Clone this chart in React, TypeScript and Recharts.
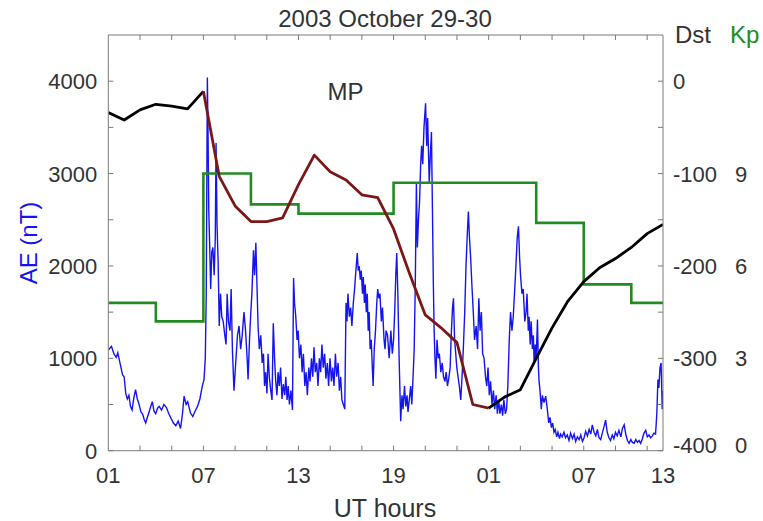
import React from 'react';
import { ComposedChart, Line, XAxis, YAxis } from 'recharts';

// hours counted from 01 UT on Oct 29
const hourTicks = [0, 2, 4, 6, 8, 10, 12, 14, 16, 18, 20, 22, 24, 26, 28, 30, 32, 34, 35];
const hourLabelAt = [0, 6, 12, 18, 24, 30, 35];
const hourLabelText = ['01', '07', '13', '19', '01', '07', '13'];

const aeTicks = [0, 500, 1000, 1500, 2000, 2500, 3000, 3500, 4000];
const dstTicks = [-400, -350, -300, -250, -200, -150, -100, -50, 0];
const kpTicks = [0, 3, 6, 9];

// AE index (nT), [hour, value]
const aeTrace: [number, number][] = [
  [0, 1090], [0.2, 1130], [0.35, 1050], [0.5, 1010], [0.6, 1060], [0.75, 940], [0.9, 820], [1.0, 800],
  [1.1, 620], [1.2, 560], [1.3, 600], [1.4, 480], [1.5, 440], [1.6, 560], [1.72, 660], [1.83, 560],
  [1.93, 510], [2.06, 420], [2.16, 400], [2.26, 340], [2.36, 300], [2.46, 360], [2.56, 410], [2.66, 470],
  [2.78, 530], [2.88, 430], [2.99, 400], [3.11, 460], [3.21, 480], [3.36, 440], [3.51, 500], [3.66, 470],
  [3.82, 400], [3.96, 350], [4.11, 300], [4.26, 270], [4.41, 320], [4.56, 240], [4.68, 400], [4.78, 590],
  [4.91, 500], [5.01, 530], [5.18, 410], [5.33, 370], [5.48, 430], [5.63, 480], [5.78, 560], [5.93, 700],
  [6.04, 770], [6.12, 1000], [6.18, 1700], [6.25, 4040], [6.29, 3500], [6.34, 2600], [6.4, 2200], [6.46, 1750],
  [6.53, 2150], [6.6, 2200], [6.68, 1900], [6.75, 2300], [6.8, 3330], [6.86, 2450], [6.93, 2050], [7.0, 1350],
  [7.08, 1700], [7.16, 1450], [7.25, 1400], [7.35, 1250], [7.43, 1150], [7.5, 1700], [7.58, 1400], [7.68, 1300],
  [7.75, 1750], [7.83, 1100], [7.93, 650], [8.02, 900], [8.15, 1250], [8.25, 1350], [8.35, 1100], [8.45, 1250],
  [8.56, 1500], [8.66, 1300], [8.76, 1000], [8.82, 770], [8.91, 1200], [8.99, 1490], [9.06, 1700], [9.16, 2170],
  [9.23, 1900], [9.31, 2250], [9.38, 1800], [9.45, 1350], [9.53, 1100], [9.62, 1250], [9.71, 950], [9.79, 1050],
  [9.86, 700], [9.93, 850], [10.01, 620], [10.08, 1050], [10.16, 800], [10.25, 650], [10.33, 550], [10.41, 1380],
  [10.49, 1000], [10.56, 760], [10.64, 600], [10.71, 850], [10.79, 700], [10.87, 900], [10.96, 560], [11.04, 720],
  [11.13, 600], [11.2, 800], [11.28, 550], [11.35, 700], [11.43, 500], [11.52, 650], [11.62, 440], [11.69, 1870],
  [11.75, 1600], [11.83, 1450], [11.91, 1200], [11.98, 1300], [12.06, 1000], [12.15, 1150], [12.23, 850], [12.31, 1050],
  [12.4, 700], [12.48, 850], [12.56, 600], [12.65, 900], [12.73, 750], [12.82, 1000], [12.9, 800], [12.98, 1120],
  [13.06, 850], [13.15, 950], [13.23, 700], [13.32, 1000], [13.4, 850], [13.48, 1150], [13.56, 900], [13.65, 1050],
  [13.73, 780], [13.82, 950], [13.9, 700], [13.99, 1000], [14.08, 750], [14.16, 900], [14.24, 700], [14.33, 1050],
  [14.41, 800], [14.5, 950], [14.58, 650], [14.66, 800], [14.74, 550], [14.83, 500], [14.92, 450], [15.0, 1600],
  [15.06, 1400], [15.12, 1700], [15.21, 1450], [15.29, 1550], [15.37, 1350], [15.46, 1600], [15.54, 1750], [15.6, 1900],
  [15.71, 2140], [15.77, 1950], [15.83, 2000], [15.9, 1850], [15.96, 1950], [16.04, 1700], [16.09, 1880], [16.16, 1600],
  [16.21, 1800], [16.28, 1500], [16.34, 1700], [16.4, 1300], [16.46, 1500], [16.52, 1100], [16.59, 1200], [16.66, 900],
  [16.71, 700], [16.78, 1100], [16.86, 1300], [16.94, 1600], [17.0, 1750], [17.07, 1650], [17.14, 1700], [17.23, 1400],
  [17.3, 1550], [17.4, 1200], [17.46, 1100], [17.53, 1300], [17.62, 1250], [17.72, 1000], [17.83, 1300], [17.92, 1050],
  [18.0, 1200], [18.07, 1500], [18.14, 1900], [18.2, 2140], [18.27, 1700], [18.35, 1000], [18.45, 320], [18.53, 600],
  [18.6, 450], [18.69, 700], [18.77, 480], [18.85, 600], [18.91, 420], [18.99, 550], [19.08, 700], [19.15, 500],
  [19.23, 800], [19.3, 1100], [19.37, 1800], [19.44, 2900], [19.5, 2200], [19.57, 2500], [19.64, 2700], [19.71, 3100],
  [19.77, 3300], [19.84, 3100], [19.92, 3500], [20.02, 3760], [20.09, 3300], [20.15, 3600], [20.25, 2900], [20.32, 3200],
  [20.39, 3450], [20.46, 2500], [20.51, 1800], [20.56, 1300], [20.61, 1000], [20.67, 780], [20.74, 1200], [20.82, 1000],
  [20.89, 1050], [20.98, 850], [21.07, 950], [21.15, 800], [21.24, 750], [21.32, 850], [21.4, 700], [21.48, 780],
  [21.57, 900], [21.65, 1300], [21.72, 1550], [21.78, 1650], [21.85, 1200], [21.9, 1100], [21.99, 900], [22.07, 800],
  [22.15, 700], [22.24, 550], [22.32, 800], [22.4, 1100], [22.49, 1500], [22.57, 2000], [22.64, 2300], [22.72, 2590],
  [22.79, 2300], [22.86, 2100], [22.94, 1800], [23.03, 1500], [23.11, 1200], [23.21, 1350], [23.3, 1100], [23.38, 1650],
  [23.46, 1300], [23.54, 1500], [23.62, 1050], [23.71, 1000], [23.8, 800], [23.88, 700], [23.96, 900], [24.04, 600],
  [24.12, 750], [24.21, 500], [24.3, 650], [24.38, 450], [24.47, 600], [24.55, 400], [24.63, 550], [24.71, 400],
  [24.8, 500], [24.88, 380], [24.96, 550], [25.05, 400], [25.13, 450], [25.21, 700], [25.3, 1200], [25.38, 1500],
  [25.47, 1300], [25.55, 1450], [25.63, 1700], [25.72, 2000], [25.8, 2300], [25.88, 2430], [25.95, 2100], [26.01, 1900],
  [26.1, 1700], [26.18, 1750], [26.28, 1400], [26.36, 1500], [26.42, 1700], [26.5, 1300], [26.55, 1450], [26.62, 1150],
  [26.68, 1400], [26.76, 1100], [26.82, 1250], [26.87, 950], [26.94, 1150], [27.0, 1000], [27.08, 1420], [27.14, 900],
  [27.18, 750], [27.24, 650], [27.32, 450], [27.39, 600], [27.49, 520], [27.6, 590], [27.7, 450], [27.79, 300],
  [27.87, 360], [27.96, 250], [28.04, 300], [28.12, 200], [28.2, 230], [28.29, 150], [28.37, 200], [28.47, 130],
  [28.54, 180], [28.64, 150], [28.75, 200], [28.85, 140], [28.96, 170], [29.07, 110], [29.17, 190], [29.29, 130],
  [29.39, 180], [29.49, 100], [29.6, 150], [29.71, 120], [29.81, 170], [29.92, 100], [30.02, 140], [30.12, 210],
  [30.23, 160], [30.34, 230], [30.44, 180], [30.54, 280], [30.65, 200], [30.76, 160], [30.86, 230], [30.96, 140],
  [31.07, 120], [31.17, 190], [31.28, 260], [31.38, 330], [31.48, 200], [31.59, 140], [31.69, 110], [31.8, 170],
  [31.9, 130], [32.0, 200], [32.11, 160], [32.22, 220], [32.34, 150], [32.44, 240], [32.55, 280], [32.66, 170],
  [32.76, 110], [32.86, 80], [32.97, 120], [33.07, 90], [33.18, 80], [33.28, 120], [33.39, 90], [33.49, 110],
  [33.59, 80], [33.7, 130], [33.8, 190], [33.91, 220], [34.01, 150], [34.12, 170], [34.22, 140], [34.33, 160],
  [34.43, 190], [34.53, 180], [34.61, 400], [34.68, 770], [34.74, 680], [34.81, 900], [34.88, 950], [34.95, 450],
  [35.0, 650],
];

// hourly Dst (nT)
const dstHours = [0, 1, 2, 3, 4, 5, 6, 7, 8, 9, 10, 11, 12, 13, 14, 15, 16, 17, 18, 19, 20, 21, 22, 23, 24, 25, 26, 27, 28, 29, 30, 31, 32, 33, 34, 35];
const dstValues = [-34, -42, -31, -25, -27, -30, -11, -103, -135, -152, -152, -148, -112, -80, -98, -107, -123, -126, -160, -208, -253, -267, -283, -350, -354, -342, -334, -300, -267, -238, -217, -202, -192, -180, -165, -155];
const mainPhaseStart = 6;
const mainPhaseEnd = 24;

// 3-hour Kp
const kpStartHours = [0, 3, 6, 9, 12, 15, 18, 21, 24, 27, 30, 33];
const kpValues = [4.8, 4.2, 9, 8, 7.7, 7.7, 8.7, 8.7, 8.7, 7.4, 5.4, 4.8];

const W = 763;
const H = 521;
const P = { left: 108.3, right: 663, top: 35, bottom: 450.7 };
const LEFT_W = 60;
const DST_W = 50;
const KP_W = 40;
const BOTTOM_H = 30;
const TOP_H = 5;
const FONT = '"Liberation Sans", Arial, Helvetica, sans-serif';
const INK = '#333333';
const FRAME = '#7a7a7a';
const BLUE = '#1414f0';
const GREEN = '#238b23';
const BROWN = '#7d1717';

const aeData = aeTrace.map(([h, v]) => ({ h, ae: v }));
const dstData = dstHours.map((h, i) => ({ h, dst: dstValues[i] }));
const dstBefore = dstData.filter((d) => d.h <= mainPhaseStart);
const dstMain = dstData.filter((d) => d.h >= mainPhaseStart && d.h <= mainPhaseEnd);
const dstAfter = dstData.filter((d) => d.h >= mainPhaseEnd);
const kpData = [
  ...kpStartHours.map((h, i) => ({ h, kp: kpValues[i] })),
  { h: 35, kp: kpValues[kpValues.length - 1] },
];

const HourTick = (props: any) => {
  const x = props.payload?.coordinate ?? props.x;
  const v = props.payload.value;
  const idx = hourLabelAt.indexOf(v);
  const inner = v > 0 && v < 35;
  return (
    <g>
      {inner && <line x1={x} x2={x} y1={P.bottom} y2={P.bottom - 5} stroke={FRAME} />}
      {inner && <line x1={x} x2={x} y1={P.top} y2={P.top + 5} stroke={FRAME} />}
      {idx >= 0 && (
        <text x={x} y={483} textAnchor="middle" fontSize={22} fill={INK} fontFamily={FONT}>
          {hourLabelText[idx]}
        </text>
      )}
    </g>
  );
};

const AeTick = (props: any) => {
  const y = props.payload?.coordinate ?? props.y;
  const v = props.payload.value;
  return (
    <g>
      <line x1={P.left} x2={P.left + 5} y1={y} y2={y} stroke={FRAME} />
      {v % 1000 === 0 && (
        <text x={P.left - 11} y={y + 8} textAnchor="end" fontSize={22} fill={INK} fontFamily={FONT}>
          {v}
        </text>
      )}
    </g>
  );
};

const DstTick = (props: any) => {
  const y = props.payload?.coordinate ?? props.y;
  const v = props.payload.value;
  const lift = v === -400 ? -6 : 0;
  return (
    <g>
      <line x1={P.right - 5} x2={P.right} y1={y} y2={y} stroke={FRAME} />
      {v % 100 === 0 && (
        <text x={673} y={y + 8 + lift} textAnchor="start" fontSize={22} fill={INK} fontFamily={FONT}>
          {v}
        </text>
      )}
    </g>
  );
};

const KpTick = (props: any) => {
  const y = props.payload?.coordinate ?? props.y;
  const v = props.payload.value;
  const lift = v === 0 ? -6 : 0;
  return (
    <text x={735} y={y + 8 + lift} textAnchor="start" fontSize={22} fill={INK} fontFamily={FONT}>
      {v}
    </text>
  );
};

const App: React.FC = () => {
  return (
    <div style={{ position: 'absolute', left: 0, top: 0, width: W, height: H, background: '#fff' }}>
      <ComposedChart
        width={W}
        height={H}
        margin={{
          top: P.top - TOP_H,
          right: W - P.right - DST_W - KP_W,
          bottom: H - P.bottom - BOTTOM_H,
          left: P.left - LEFT_W,
        }}
      >
        <XAxis
          xAxisId="x"
          dataKey="h"
          type="number"
          domain={[0, 35]}
          allowDataOverflow
          ticks={hourTicks}
          interval={0}
          height={BOTTOM_H}
          tickLine={false}
          axisLine={{ stroke: FRAME }}
          tick={<HourTick />}
        />
        <XAxis
          xAxisId="top"
          orientation="top"
          type="number"
          domain={[0, 35]}
          height={TOP_H}
          tick={false}
          tickLine={false}
          axisLine={{ stroke: FRAME }}
        />
        <YAxis
          yAxisId="ae"
          type="number"
          domain={[0, 4500]}
          allowDataOverflow
          ticks={aeTicks}
          interval={0}
          width={LEFT_W}
          tickLine={false}
          axisLine={{ stroke: FRAME }}
          tick={<AeTick />}
        />
        <YAxis
          yAxisId="dst"
          orientation="right"
          type="number"
          domain={[-400, 50]}
          allowDataOverflow
          ticks={dstTicks}
          interval={0}
          width={DST_W}
          tickLine={false}
          axisLine={{ stroke: FRAME }}
          tick={<DstTick />}
        />
        <YAxis
          yAxisId="kp"
          orientation="right"
          type="number"
          domain={[0, 13.5]}
          allowDataOverflow
          ticks={kpTicks}
          interval={0}
          width={KP_W}
          tickLine={false}
          axisLine={false}
          tick={<KpTick />}
        />
        <Line
          xAxisId="x"
          yAxisId="ae"
          data={aeData}
          dataKey="ae"
          type="linear"
          stroke={BLUE}
          strokeWidth={1.4}
          dot={false}
          activeDot={false}
          isAnimationActive={false}
        />
        <Line
          xAxisId="x"
          yAxisId="kp"
          data={kpData}
          dataKey="kp"
          type="stepAfter"
          stroke={GREEN}
          strokeWidth={2.6}
          dot={false}
          activeDot={false}
          isAnimationActive={false}
        />
        <Line
          xAxisId="x"
          yAxisId="dst"
          data={dstBefore}
          dataKey="dst"
          type="linear"
          stroke="#000000"
          strokeWidth={2.8}
          strokeLinejoin="round"
          dot={false}
          activeDot={false}
          isAnimationActive={false}
        />
        <Line
          xAxisId="x"
          yAxisId="dst"
          data={dstMain}
          dataKey="dst"
          type="linear"
          stroke={BROWN}
          strokeWidth={2.8}
          strokeLinejoin="round"
          dot={false}
          activeDot={false}
          isAnimationActive={false}
        />
        <Line
          xAxisId="x"
          yAxisId="dst"
          data={dstAfter}
          dataKey="dst"
          type="linear"
          stroke="#000000"
          strokeWidth={2.8}
          strokeLinejoin="round"
          dot={false}
          activeDot={false}
          isAnimationActive={false}
        />
      </ComposedChart>
      <svg
        width={W}
        height={H}
        style={{ position: 'absolute', left: 0, top: 0, pointerEvents: 'none' }}
        fontFamily={FONT}
      >
        <text x={385} y={27} textAnchor="middle" fontSize={24} fill={INK}>2003 October 29-30</text>
        <text x={345.5} y={100} textAnchor="middle" fontSize={24} fill={INK}>MP</text>
        <text x={675} y={43} fontSize={24} fill={INK}>Dst</text>
        <text x={730} y={43} fontSize={24} fill={GREEN}>Kp</text>
        <text x={385} y={517} textAnchor="middle" fontSize={25} fill={INK}>UT hours</text>
        <text
          x={28}
          y={243}
          textAnchor="middle"
          dominantBaseline="central"
          fontSize={24}
          fill={BLUE}
          transform="rotate(-90, 28, 243)"
        >
          AE (nT)
        </text>
      </svg>
    </div>
  );
};

export default App;
